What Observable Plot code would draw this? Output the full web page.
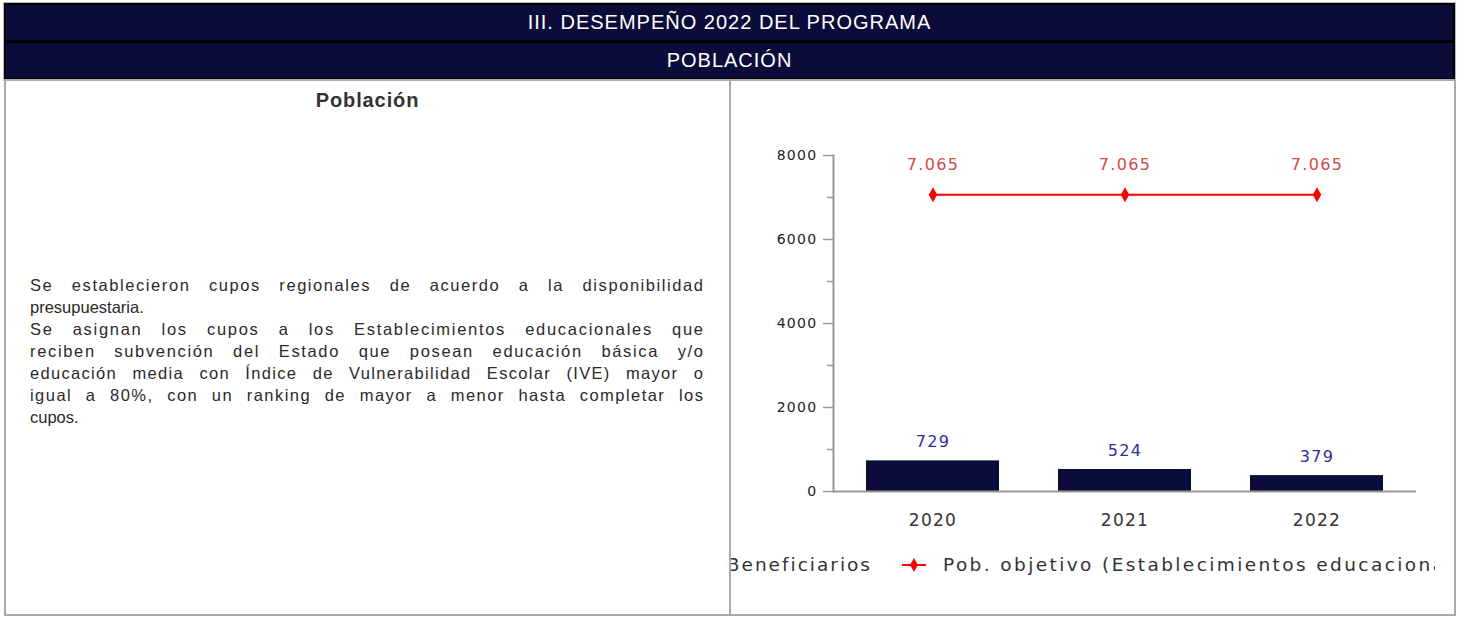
<!DOCTYPE html>
<html>
<head>
<meta charset="utf-8">
<script src="https://cdn.jsdelivr.net/npm/d3@7"></script>
<script src="https://cdn.jsdelivr.net/npm/@observablehq/plot@0.6"></script>
<style>
  html, body { margin: 0; padding: 0; background: #fff; width: 1458px; height: 617px; overflow: hidden; }
  .abs { position: absolute; }
  #hdr { left: 4px; top: 3px; width: 1451px; height: 77px; background: #000; box-shadow: 0 0 0 1px #bbb; }
  .row { position: absolute; left: 2px; width: 1447px; height: 35px; background: #0c0c3a; color: #fff;
         font-family: "Liberation Sans", Arial, sans-serif; font-size: 20px; letter-spacing: 1px; display: flex; align-items: center; justify-content: center; }
  #body { left: 4px; top: 79px; width: 1448px; height: 533px; border: 2px solid #aaa; }
  #mid { left: 729px; top: 80px; width: 2px; height: 536px; background: #aaa; }
  #lefttitle { left: 6px; top: 89px; width: 723px; text-align: center; font-family: "Liberation Sans", Arial, sans-serif; font-weight: bold; font-size: 20px; letter-spacing: 0.9px; color: #333; }
  #para { left: 30px; top: 274px; width: 673px; font-family: "Liberation Sans", Arial, sans-serif; font-size: 16.5px; line-height: 22px; color: #2a2a2a; }
  #para div { white-space: nowrap; height: 22px; }
  #chart { left: 731px; top: 80px; }
  #legclip { left: 731px; top: 552px; width: 704px; height: 30px; overflow: hidden; font-family: "DejaVu Sans", sans-serif; font-size: 18.5px; color: #333; letter-spacing: 2.4px; }
  #legA { position: absolute; right: 563px; top: 2px; white-space: nowrap; display: flex; align-items: center; letter-spacing: 2.0px; }
  #legB { position: absolute; left: 171px; top: 2px; white-space: nowrap; display: flex; align-items: center; }
</style>
</head>
<body>
<div id="hdr" class="abs">
  <div class="row" id="r1" style="top:2px"></div>
  <div class="row" id="r2" style="top:40px"></div>
</div>
<div id="body" class="abs"></div>
<div id="mid" class="abs"></div>
<div id="lefttitle" class="abs"></div>
<div id="para" class="abs"></div>
<div id="chart" class="abs"></div>
<div id="legclip" class="abs">
  <div id="legA"></div>
  <div id="legB"></div>
</div>
<script>
// ---- data ----
const headerTitle = "III. DESEMPEÑO 2022 DEL PROGRAMA";
const headerSub = "POBLACIÓN";
const leftTitle = "Población";
const paragraphLines = [
  "Se establecieron cupos regionales de acuerdo a la disponibilidad",
  "presupuestaria.",
  "Se asignan los cupos a los Establecimientos educacionales que",
  "reciben subvención del Estado que posean educación básica y/o",
  "educación media con Índice de Vulnerabilidad Escolar (IVE) mayor o",
  "igual a 80%, con un ranking de mayor a menor hasta completar los",
  "cupos."
];
const paragraphEnds = [1, 6]; // lines that end a paragraph (not stretched)
const years = ["2020", "2021", "2022"];
const beneficiarios = [729, 524, 379];
const poblacionObjetivo = [7065, 7065, 7065];
const yMajorTicks = [0, 2000, 4000, 6000, 8000];
const yMinorTicks = [1000, 3000, 5000, 7000];
const seriesNames = ["Beneficiarios", "Pob. objetivo (Establecimientos educacionales)"];

// ---- page text ----
document.getElementById("r1").textContent = headerTitle;
document.getElementById("r2").textContent = headerSub;
document.getElementById("lefttitle").textContent = leftTitle;
const para = document.getElementById("para");
const paraWidth = 673;
paragraphLines.forEach((t, i) => {
  const d = document.createElement("div");
  const s = document.createElement("span");
  s.textContent = t;
  d.appendChild(s);
  para.appendChild(d);
  if (!paragraphEnds.includes(i)) {
    const w = s.getBoundingClientRect().width;
    const extra = paraWidth - w;
    const nChars = t.length - 1;
    const nSpaces = (t.match(/ /g) || []).length;
    s.style.letterSpacing = (extra * 0.5 / nChars) + "px";
    s.style.wordSpacing = (extra * 0.5 / nSpaces) + "px";
  }
});

// ---- chart ----
const data = years.map((y, i) => ({year: y, benef: beneficiarios[i], obj: poblacionObjetivo[i]}));
const fmt = v => d3.format(",")(v).replace(/,/g, ".");
const barColor = "#0c0c3a";
const lineColor = "#ff0000";

const chart = Plot.plot({
  width: 724,
  height: 461,
  marginLeft: 102,
  marginRight: 39,
  marginTop: 75,
  marginBottom: 50,
  style: {fontFamily: "DejaVu Sans, sans-serif", background: "transparent", overflow: "visible"},
  x: {domain: years, paddingInner: 0.307, paddingOuter: 0.165, label: null},
  y: {domain: [0, 8000], label: null},
  marks: [
    Plot.barY(data, {x: "year", y: "benef", fill: barColor}),
    Plot.axisY({ticks: yMajorTicks, tickSize: 10, tickPadding: 6, stroke: "#999", strokeWidth: 1.5, fill: "#222", fontSize: 14, label: null, tickFormat: d => String(d)}),
    Plot.axisY({ticks: yMinorTicks, tickSize: 6, stroke: "#999", strokeWidth: 1.5, tickFormat: () => "", label: null}),
    Plot.frame({anchor: "left", stroke: "#999", strokeWidth: 2}),
    Plot.ruleY([0], {stroke: "#999", strokeWidth: 2}),
    Plot.axisX({tickSize: 0, tickPadding: 22, fontSize: 17, fill: "#333", label: null}),
    Plot.text(data, {x: "year", y: "benef", text: d => fmt(d.benef), dy: -19, fill: "#2e2e9a", fontSize: 16}),
    Plot.line(data, {x: "year", y: "obj", stroke: lineColor, strokeWidth: 2}),
    Plot.dot(data, {x: "year", y: "obj", symbol: "diamond", fill: lineColor, r: 4.5}),
    Plot.text(data, {x: "year", y: "obj", text: d => fmt(d.obj), dy: -30, fill: "#d04848", fontSize: 16})
  ]
});
chart.querySelectorAll("text").forEach(t => t.setAttribute("letter-spacing", "1.3"));
document.getElementById("chart").appendChild(chart);

// ---- legend ----
const legA = document.getElementById("legA");
legA.innerHTML = `<svg width="14" height="14" style="margin-right:10px"><rect width="14" height="14" fill="${barColor}"/></svg><span></span>`;
legA.querySelector("span").textContent = seriesNames[0];
const legB = document.getElementById("legB");
legB.innerHTML = `<svg width="24" height="14" style="margin-right:17px"><line x1="0" x2="24" y1="7" y2="7" stroke="${lineColor}" stroke-width="2"/><path d="${d3.symbol(d3.symbolDiamond, 55)()}" transform="translate(12,7)" fill="${lineColor}"/></svg><span></span>`;
legB.querySelector("span").textContent = seriesNames[1];
</script>
</body>
</html>
